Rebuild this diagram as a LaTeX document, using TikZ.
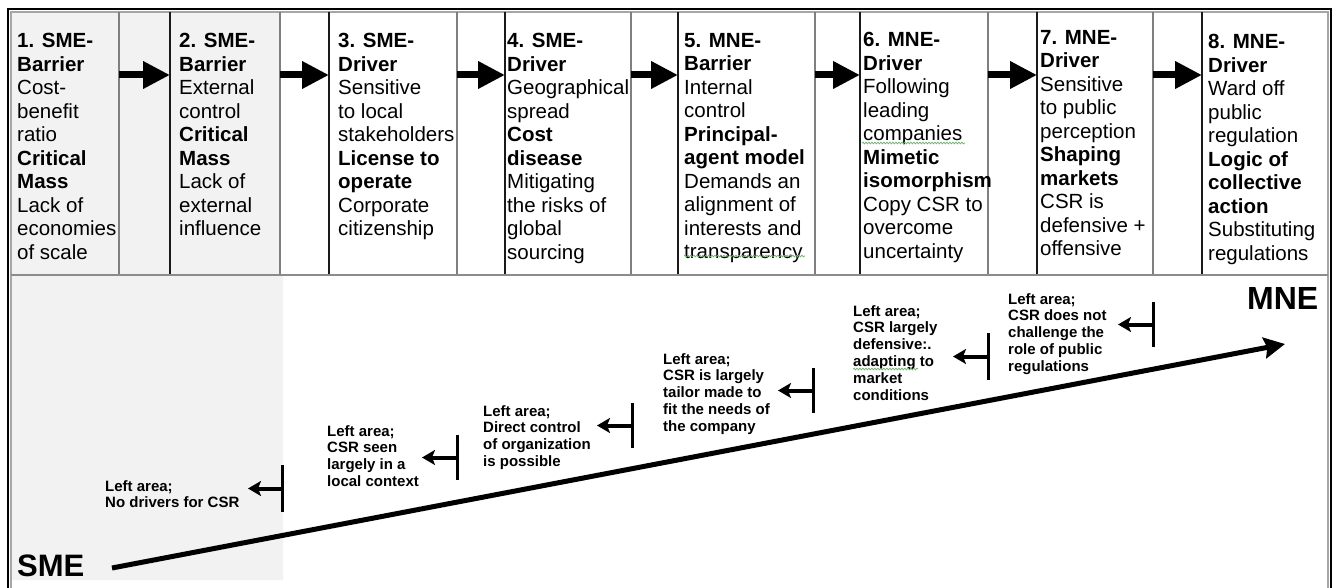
\documentclass[tikz,border=0pt]{standalone}
\usepackage{fontspec}
\setmainfont{Liberation Sans}
\usetikzlibrary{arrows.meta,calc,decorations.pathmorphing}

\definecolor{panel}{HTML}{F2F2F2}
\definecolor{rulegray}{HTML}{7F7F7F}
\definecolor{rulegrayB}{HTML}{8C8C8C}
\definecolor{framegray}{HTML}{A6A6A6}
\definecolor{rulesdark}{HTML}{1A1A1A}
\definecolor{squiggle}{HTML}{6FAF6F}

\begin{document}
\begin{tikzpicture}[x=1pt,y=-1pt,
  cell/.style={rectangle, inner sep=0pt, outer sep=0pt, minimum height=263pt},
  coltext/.style={anchor=north west, inner sep=0pt, align=left,
    font=\fontsize{20.5}{23.5}\selectfont},
  lbl/.style={anchor=north west, inner sep=0pt, align=left,
    font=\fontsize{15}{16.8}\selectfont\bfseries},
  bigword/.style={anchor=north west, inner sep=0pt, font=\bfseries},
  edgeL/.style={rulesdark, line width=1.5pt},
  edgeR/.style={rulegray, line width=1.5pt},
  blk/.style={line width=7pt, -{Triangle[length=27pt,width=26pt]}},
  bar/.style={fill=black, inner sep=0pt, outer sep=0pt, minimum width=3pt},
  pointer/.style={line width=4pt, -{Stealth[length=13pt,width=15pt,inset=3pt]}},
  trend/.style={line width=5pt, -{Stealth[length=21pt,width=21pt,inset=3pt]}},
  wavy/.style={squiggle, line width=0.7pt, decorate,
    decoration={snake, amplitude=0.9pt, segment length=3pt}}
]
\useasboundingbox (0,0) rectangle (1337,588);

% shaded SME area
\fill[panel] (11,12) -| (281,275) -| (283,580) -| cycle;

% frames
\draw[black, line width=2.5pt] (8,588) -- (8,9) -- (1331,9) -- (1331,588);
\draw[framegray, line width=2pt] (11,588) -- (11,12) -- (1328,12) -- (1328,588);

% table cells
\node[cell, minimum width=108pt] (k1) at (65,143.5) {};
\node[cell, minimum width=110pt] (k2) at (225,143.5) {};
\node[cell, minimum width=128pt] (k3) at (393,143.5) {};
\node[cell, minimum width=126pt] (k4) at (568,143.5) {};
\node[cell, minimum width=137pt] (k5) at (746.5,143.5) {};
\node[cell, minimum width=128pt] (k6) at (924,143.5) {};
\node[cell, minimum width=116pt] (k7) at (1095,143.5) {};
\node[cell, minimum width=126pt] (k8) at (1265,143.5) {};

% cell borders
\foreach \c in {k2,k3,k4,k5,k6,k7,k8}
  \draw[edgeL] (\c.north west) -- (\c.south west);
\foreach \c in {k1,k2,k3,k4,k5,k6,k7}
  \draw[edgeR] (\c.north east) -- (\c.south east);
\draw[rulegrayB, line width=2.5pt] (k1.south west) -- (k8.south east);

% cell texts
\node[coltext] (t1) at (17,33) {\textbf{1. SME-}\\\textbf{Barrier}\\Cost-\\benefit\\ratio\\\textbf{Critical}\\\textbf{Mass}\\Lack of\\economies\\of scale};
\node[coltext] (t2) at (179,33) {\textbf{2. SME-}\\\textbf{Barrier}\\External\\control\\\textbf{Critical}\\\textbf{Mass}\\Lack of\\external\\influence};
\node[coltext] (t3) at (338,33) {\textbf{3. SME-}\\\textbf{Driver}\\Sensitive\\to local\\stakeholders\\\textbf{License to}\\\textbf{operate}\\Corporate\\citizenship};
\node[coltext] (t4) at (507,33) {\textbf{4. SME-}\\\textbf{Driver}\\Geographical\\spread\\\textbf{Cost}\\\textbf{disease}\\Mitigating\\the risks of\\global\\sourcing};
\node[coltext] (t5) at (684,33) {\textbf{5. MNE-}\\\textbf{Barrier}\\Internal\\control\\\textbf{Principal-}\\\textbf{agent model}\\Demands an\\alignment of\\interests and\\transparency};
\node[coltext] (t6) at (863,32) {\textbf{6. MNE-}\\\textbf{Driver}\\Following\\leading\\companies\\\textbf{Mimetic}\\\textbf{isomorphism}\\Copy CSR to\\overcome\\uncertainty};
\node[coltext] (t7) at (1040,30) {\textbf{7. MNE-}\\\textbf{Driver}\\Sensitive\\to public\\perception\\\textbf{Shaping}\\\textbf{markets}\\CSR is\\defensive +\\offensive};
\node[coltext] (t8) at (1208,34) {\textbf{8. MNE-}\\\textbf{Driver}\\Ward off\\public\\regulation\\\textbf{Logic of}\\\textbf{collective}\\\textbf{action}\\Substituting\\regulations};

% spelling marks under words
\draw[wavy] (862,143) -- (965,143);
\draw[wavy] (684,256) -- (805,256);

% block arrows between cells
\draw[blk] ($(k1.north east)+(0,63)$) -- ($(k2.north west)+(0,63)$);
\draw[blk] ($(k2.north east)+(0,63)$) -- ($(k3.north west)+(0,63)$);
\draw[blk] ($(k3.north east)+(0,63)$) -- ($(k4.north west)+(0,63)$);
\draw[blk] ($(k4.north east)+(0,63)$) -- ($(k5.north west)+(0,63)$);
\draw[blk] ($(k5.north east)+(0,63)$) -- ($(k6.north west)+(0,63)$);
\draw[blk] ($(k6.north east)+(0,63)$) -- ($(k7.north west)+(0,63)$);
\draw[blk] ($(k7.north east)+(0,63)$) -- ($(k8.north west)+(0,63)$);

% SME to MNE trend
\node[bigword, font=\fontsize{31}{31}\selectfont\bfseries] (sme) at (17,555) {SME};
\node[bigword, font=\fontsize{32}{32}\selectfont\bfseries] (mne) at (1247,287) {MNE};
\coordinate (lo) at (112,568);
\coordinate (hi) at (1285,344);
\draw[trend] (lo) -- (hi);

% left-area notes
\node[lbl] (l1) at (105,480) {Left area;\\No drivers for CSR};
\node[lbl] (l2) at (327,425) {Left area;\\CSR seen\\largely in a\\local context};
\node[lbl] (l3) at (483,405) {Left area;\\Direct control\\of organization\\is possible};
\node[lbl] (l4) at (663,353) {Left area;\\CSR is largely\\tailor made to\\fit the needs of\\the company};
\node[lbl] (l5) at (853,305) {Left area;\\CSR largely\\defensive:.\\adapting to\\market\\conditions};
\node[lbl] (l6) at (1008,293) {Left area;\\CSR does not\\challenge the\\role of public\\regulations};
\draw[wavy] (853,369) -- (918,369);

% thresholds with arrows pointing left
\node[bar, minimum height=47pt] (b1) at (282,488.5) {};
\node[bar, minimum height=45pt] (b2) at (457,457.5) {};
\node[bar, minimum height=45pt] (b3) at (632,425.5) {};
\node[bar, minimum height=45pt] (b4) at (813,390.5) {};
\node[bar, minimum height=47pt] (b5) at (988,356.5) {};
\node[bar, minimum height=45pt] (b6) at (1153,324.5) {};
\coordinate (p1) at (248,488.5);
\coordinate (p2) at (422,457.5);
\coordinate (p3) at (597,425.5);
\coordinate (p4) at (778,390.5);
\coordinate (p5) at (953,356.5);
\coordinate (p6) at (1118,324.5);
\foreach \i in {1,...,6}
  \draw[pointer] (b\i.center) -- (p\i);
\end{tikzpicture}
\end{document}
